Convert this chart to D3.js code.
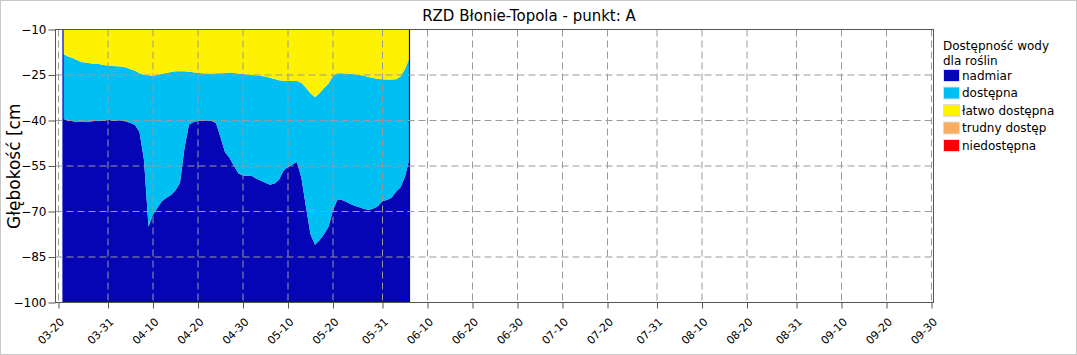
<!DOCTYPE html>
<html>
<head>
<meta charset="utf-8">
<script src="https://cdn.jsdelivr.net/npm/d3@7"></script>
<style>
body { margin: 0; background: #fff; }
svg { display: block; font-family: "DejaVu Sans", sans-serif; }
</style>
</head>
<body>
<svg id="chart"></svg>
<script>
// pomiary dzienne, od 03-21 do 06-06
var year = "2021";
var firstDay = "03-21";
var lastDay = "06-06";

// granica nadmiar / dostepna [cm]
var lowerLevel = [
 -39.5,-39.8,-40.2,-40.5,-40.5,-40.5,-40.3,-40.2,-40.1,-39.9,
 -39.8,-39.8,-39.9,-40.0,-40.3,-40.8,-41.5,-43.8,-53.0,-75.0,
 -71.0,-68.8,-66.5,-65.5,-64.6,-63.0,-60.5,-49.0,-41.3,-40.5,
 -40.2,-40.0,-40.0,-40.2,-40.8,-45.5,-50.5,-52.3,-55.0,-57.5,
 -58.1,-58.2,-58.3,-59.2,-59.9,-60.5,-61.2,-60.8,-59.5,-56.5,
 -55.3,-54.5,-53.7,-59.0,-68.6,-77.5,-81.0,-79.5,-77.5,-75.0,
 -69.5,-66.0,-66.2,-66.9,-67.6,-68.2,-68.7,-69.2,-69.5,-69.0,
 -68.2,-66.5,-66.2,-65.5,-63.5,-62.0,-58.5,-52.5
];
// granica dostepna / latwo dostepna [cm]
var upperLevel = [
 -18.0,-18.8,-19.3,-20.0,-20.7,-20.9,-21.1,-21.3,-21.4,-21.7,
 -21.9,-22.0,-22.1,-22.2,-22.5,-23.1,-23.6,-24.4,-24.9,-25.2,
 -25.3,-25.0,-24.6,-24.3,-24.0,-23.8,-23.8,-23.8,-23.9,-24.1,
 -24.3,-24.4,-24.5,-24.5,-24.4,-24.4,-24.3,-24.2,-24.3,-24.5,
 -24.7,-24.8,-25.0,-25.2,-25.3,-25.5,-25.9,-26.3,-26.7,-26.9,
 -27.0,-27.0,-27.0,-27.6,-29.2,-31.0,-32.3,-31.0,-29.3,-27.8,
 -25.3,-24.4,-24.4,-24.5,-24.6,-24.8,-25.0,-25.3,-25.7,-26.0,
 -26.3,-26.4,-26.5,-26.5,-26.4,-25.5,-23.0,-19.5
];

var yTicks = [-10,-25,-40,-55,-70,-85,-100];
var xTickLabels = ["03-20","03-31","04-10","04-20","04-30","05-10","05-20","05-31",
                   "06-10","06-20","06-30","07-10","07-20","07-31","08-10","08-20",
                   "08-31","09-10","09-20","09-30"];

var legendNames = ["nadmiar","dostępna","łatwo dostępna","trudny dostęp","niedostępna"];
var legendColors = ["#0505b5","#00bff2","#fff200","#f8ad62","#ff0000"];

var parseDay = d3.timeParse("%Y-%m-%d");
var toDate = function(md) { return parseDay(year + "-" + md); };

var drawAreas = function(data, target, xScale, yScale)
{
    var bottom = yScale.domain()[0];
    var top = yScale.domain()[1];

    var dark = d3.area()
        .x(function(d) { return xScale(d.date); })
        .y0(function(d) { return yScale(bottom); })
        .y1(function(d) { return yScale(d.lower); });
    var light = d3.area()
        .x(function(d) { return xScale(d.date); })
        .y0(function(d) { return yScale(d.lower); })
        .y1(function(d) { return yScale(d.upper); });
    var easy = d3.area()
        .x(function(d) { return xScale(d.date); })
        .y0(function(d) { return yScale(d.upper); })
        .y1(function(d) { return yScale(top); });

    target.append("path").datum(data).attr("d", dark).attr("fill", legendColors[0]);
    target.append("path").datum(data).attr("d", light).attr("fill", legendColors[1]);
    target.append("path").datum(data).attr("d", easy).attr("fill", legendColors[2]);

    // ciemne krawedzie na poczatku i koncu serii
    var ends = [data[0], data[data.length - 1]];
    target.selectAll("line.edge")
        .data(ends)
        .enter()
        .append("line")
        .classed("edge", true)
        .attr("x1", function(d) { return xScale(d.date); })
        .attr("x2", function(d) { return xScale(d.date); })
        .attr("y1", yScale(bottom))
        .attr("y2", yScale(top))
        .attr("stroke", legendColors[0])
        .attr("stroke-width", 1.2);
}

var drawGrid = function(svg, box, xScale, yScale, xTicks)
{
    var grid = svg.append("g").attr("stroke", "#9a9a9a").attr("stroke-dasharray", "7,4");

    grid.selectAll("line.vx")
        .data(xTicks)
        .enter()
        .append("line")
        .attr("x1", function(d) { return xScale(d); })
        .attr("x2", function(d) { return xScale(d); })
        .attr("y1", box.top)
        .attr("y2", box.bottom);

    grid.selectAll("line.hy")
        .data(yTicks.slice(1, yTicks.length - 1))
        .enter()
        .append("line")
        .attr("x1", box.left)
        .attr("x2", box.right + 2)
        .attr("y1", function(d) { return yScale(d); })
        .attr("y2", function(d) { return yScale(d); });

    svg.append("rect")
        .attr("x", box.left)
        .attr("y", box.top)
        .attr("width", box.right - box.left)
        .attr("height", box.bottom - box.top)
        .attr("fill", "none")
        .attr("stroke", "#555");
}

var drawAxes = function(svg, box, xScale, yScale, xTicks)
{
    var yAxis = d3.axisLeft(yScale)
        .tickValues(yTicks)
        .tickSize(7)
        .tickPadding(2);

    var xAxis = d3.axisBottom(xScale)
        .tickValues(xTicks)
        .tickSize(6)
        .tickFormat(d3.timeFormat("%m-%d"));

    var ya = svg.append("g")
        .attr("transform", "translate(" + box.left + ",0)")
        .call(yAxis);
    ya.select(".domain").remove();
    ya.selectAll("line").attr("stroke", "#555");
    ya.selectAll("text").attr("font-size", 12).attr("font-family", "DejaVu Sans").attr("fill", "#000");

    var xa = svg.append("g")
        .attr("transform", "translate(0," + box.bottom + ")")
        .call(xAxis);
    xa.select(".domain").remove();
    xa.selectAll("line").attr("stroke", "#555");
    xa.selectAll("text")
        .attr("font-size", 11)
        .attr("font-family", "DejaVu Sans")
        .attr("fill", "#000")
        .attr("text-anchor", "end")
        .attr("x", 0).attr("y", 0).attr("dy", 0)
        .attr("transform", "translate(6,20) rotate(-45)");
}

var drawLabels = function(svg)
{
    svg.append("text")
        .text("RZD Błonie-Topola - punkt: A")
        .attr("x", 529)
        .attr("y", 20.5)
        .attr("text-anchor", "middle")
        .attr("font-size", 15);

    svg.append("clipPath")
        .attr("id", "ylabClip")
        .append("rect")
        .attr("x", 0).attr("y", 103).attr("width", 40).attr("height", 200);

    svg.append("g")
        .attr("clip-path", "url(#ylabClip)")
        .append("text")
        .text("Głębokość [cm]")
        .attr("transform", "translate(20,229) rotate(-90)")
        .attr("font-size", 17);
}

var drawLegend = function(svg)
{
    var legend = svg.append("g").attr("transform", "translate(943,0)");
    legend.append("text").text("Dostępność wody").attr("x", 0).attr("y", 49.5).attr("font-size", 12);
    legend.append("text").text("dla roślin").attr("x", 0).attr("y", 64.5).attr("font-size", 12);

    var items = legend.selectAll("g.item")
        .data(legendNames)
        .enter()
        .append("g")
        .classed("item", true)
        .attr("transform", function(d, i) { return "translate(0," + (69 + i * 17.5) + ")"; });

    items.append("rect")
        .attr("x", 0.5).attr("y", 0.5)
        .attr("width", 16).attr("height", 12)
        .attr("fill", function(d, i) { return legendColors[i]; })
        .attr("stroke", "#ddd");

    items.append("text")
        .text(function(d) { return d; })
        .attr("x", 19)
        .attr("y", 10.5)
        .attr("font-size", 12);
}

var initGraph = function()
{
    var screen = {width: 1077, height: 355};
    var box = {left: 55.5, right: 933.5, top: 29.5, bottom: 302.5};

    var svg = d3.select("#chart")
        .attr("width", screen.width)
        .attr("height", screen.height);

    svg.append("rect")
        .attr("x", 0.5).attr("y", 0.5)
        .attr("width", screen.width - 1).attr("height", screen.height - 1)
        .attr("fill", "#fff").attr("stroke", "#c8c8c8");

    var days = d3.timeDay.range(toDate(firstDay), d3.timeDay.offset(toDate(lastDay), 1));
    var data = days.map(function(d, i) {
        return {date: d, lower: lowerLevel[i], upper: upperLevel[i]};
    });
    var xTicks = xTickLabels.map(toDate);

    var xScale = d3.scaleTime()
        .domain([xTicks[0], xTicks[xTicks.length - 1]])
        .range([58.5, 931.5]);
    var yScale = d3.scaleLinear()
        .domain([-100, -10])
        .range([box.bottom, box.top]);

    drawAreas(data, svg.append("g"), xScale, yScale);
    drawGrid(svg, box, xScale, yScale, xTicks);
    drawAxes(svg, box, xScale, yScale, xTicks);
    drawLabels(svg);
    drawLegend(svg);
}

initGraph();
</script>
</body>
</html>
